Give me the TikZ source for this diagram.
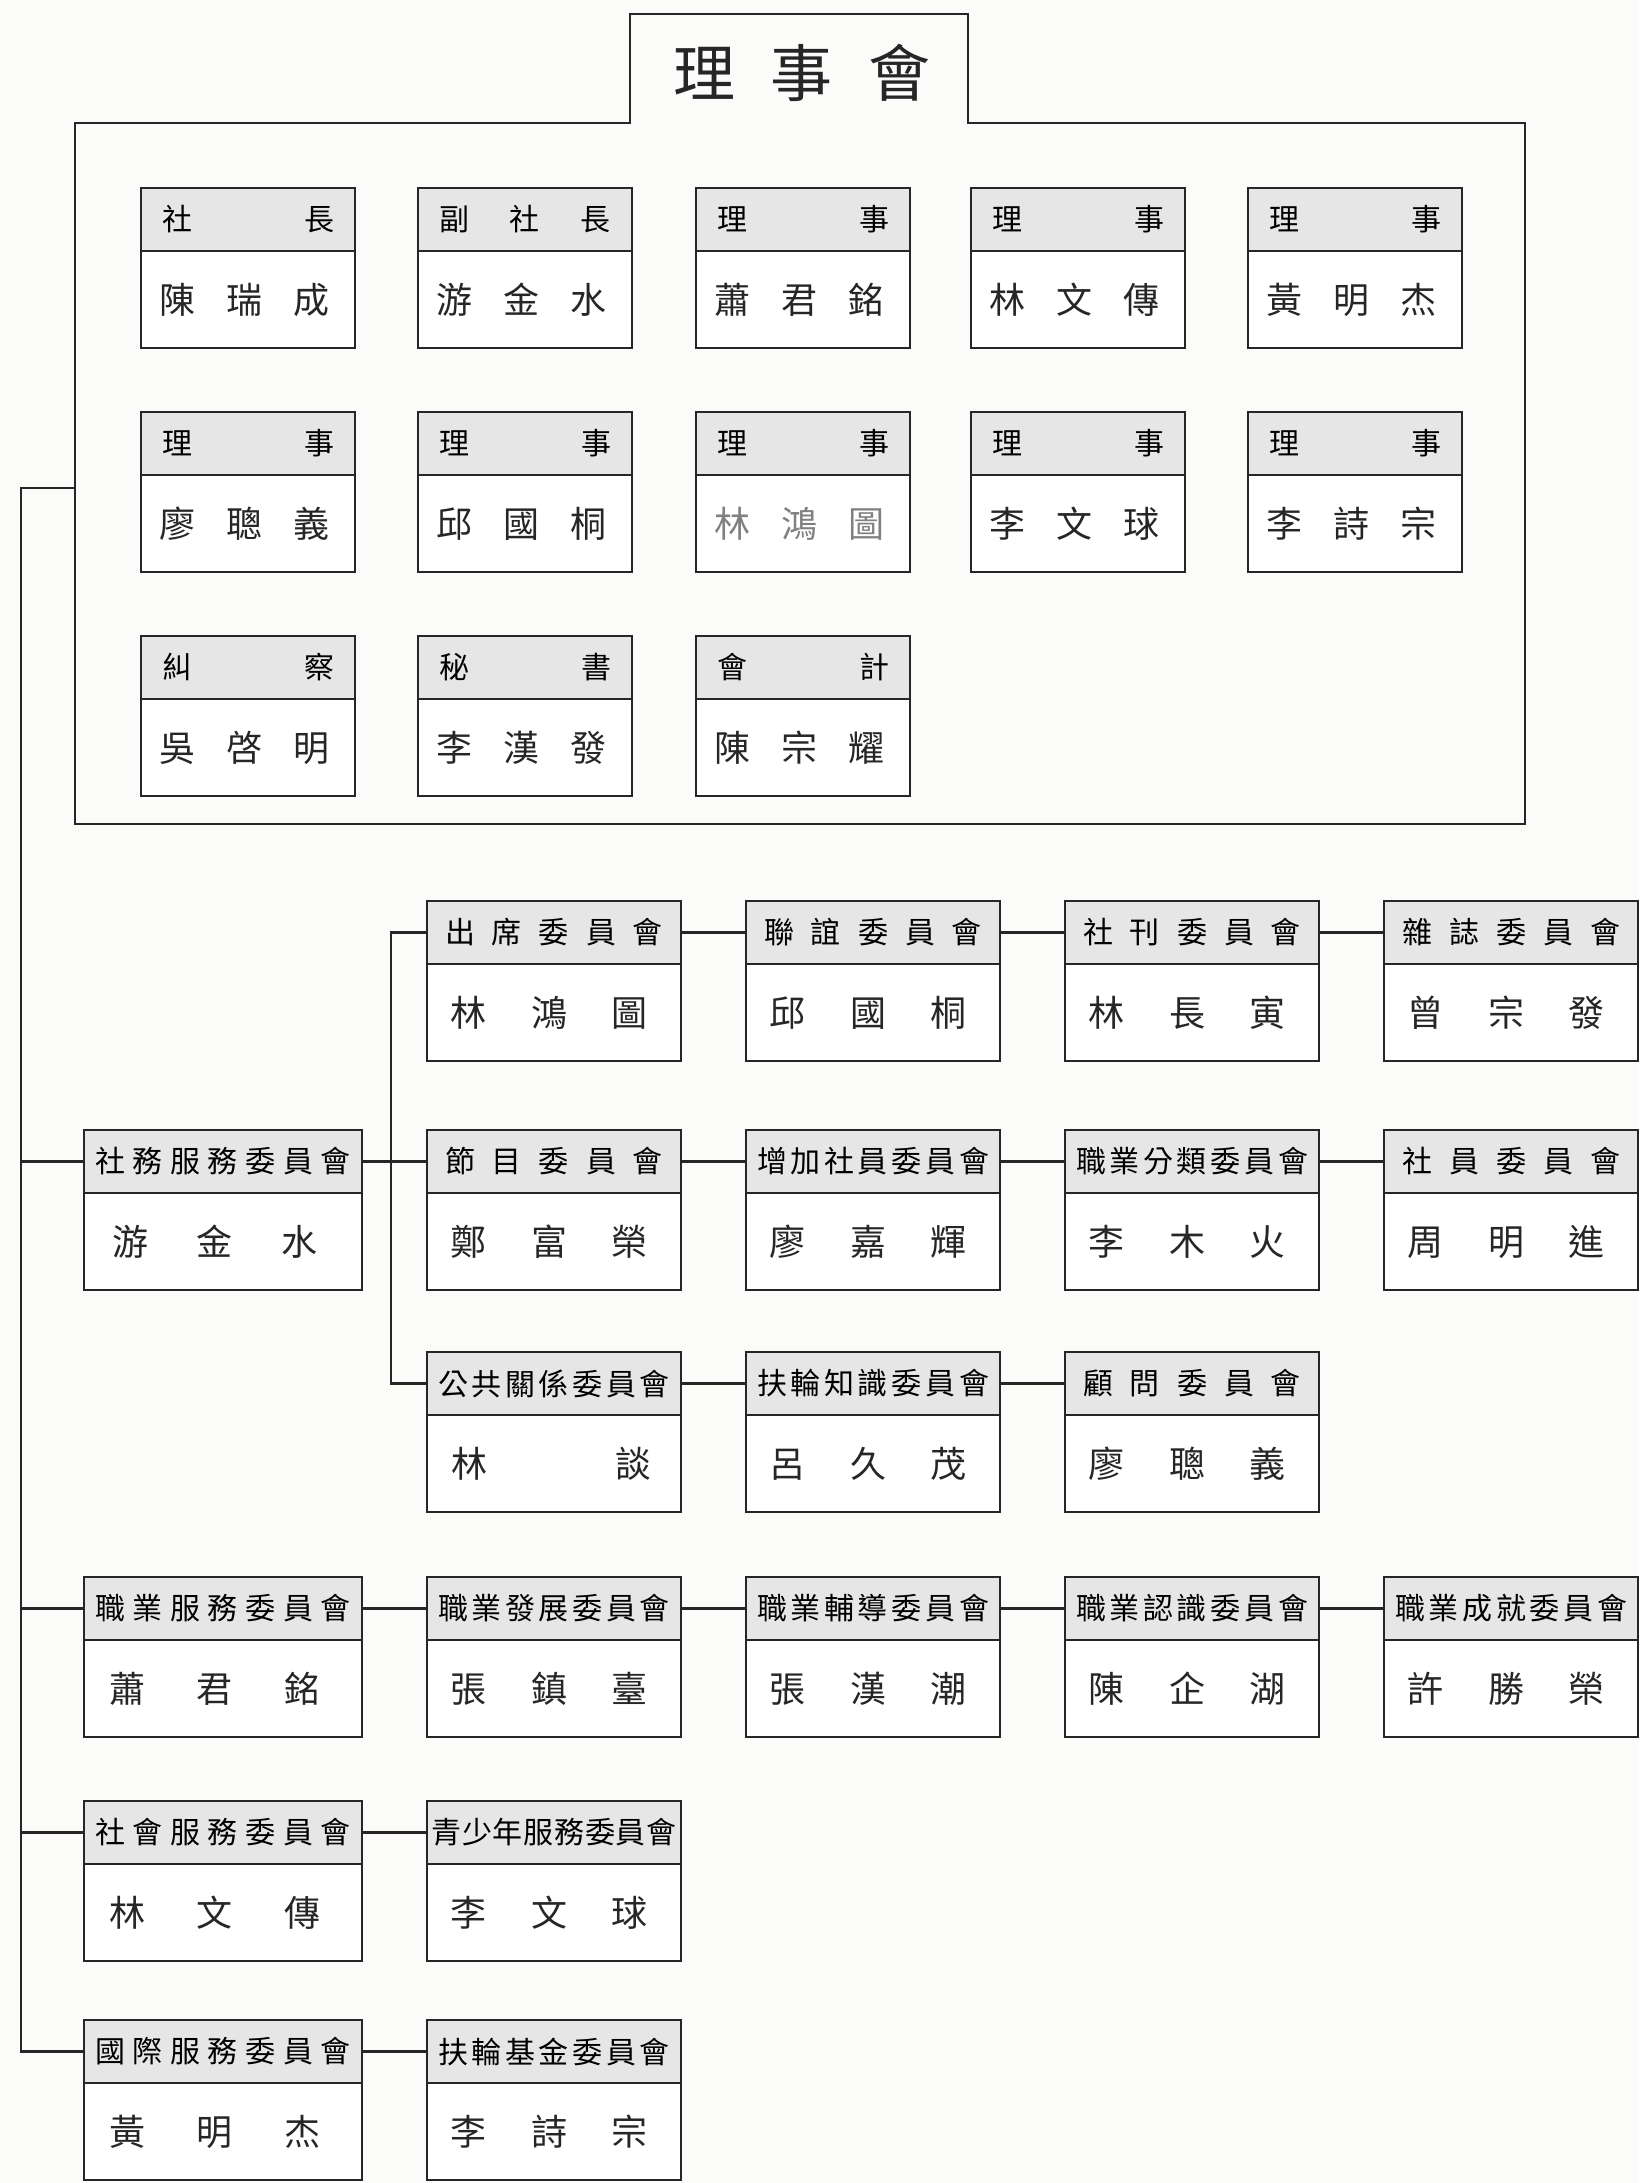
\documentclass[tikz,border=0pt]{standalone}
\usepackage{fontspec}
\newfontfamily\cjk{Noto Sans CJK TC}
\usetikzlibrary{calc}
\definecolor{headgrey}{HTML}{E6E6E6}
\definecolor{ink}{HTML}{262626}
\definecolor{paper}{HTML}{FBFBFA}
\newcommand\hdtxt[2]{\makebox[#1]{\cjk\fontsize{30}{32}\selectfont #2}}
\newcommand\nmtxt[2]{\makebox[#1]{\cjk\fontsize{36}{40}\selectfont #2}}
% board card: name, x, y, header, names
\newcommand\bcard[5]{%
  \node[bbox] (#1) at (#2,#3) {};
  \node[bhead] (#1h) at (#1.north west) {\hdtxt{172pt}{#4}};
  \node[txt,xshift=-3.5pt] (#1n) at ($(#1h.south)!0.5!(#1.south)$) {\nmtxt{170pt}{#5}};
}
% committee: name, x, y, width, header width, header, names width, names, name shift
\newcommand\cbox[9]{%
  \node[cframe,minimum width=#4pt] (#1) at (#2,#3) {};
  \node[chead,minimum width=#4pt] (#1h) at (#1.north west) {\hdtxt{#5pt}{#6}};
  \node[txt,xshift=#9pt] (#1n) at ($(#1h.south)!0.5!(#1.south)$) {\nmtxt{#7pt}{#8}};
}
\begin{document}
\begin{tikzpicture}[x=1pt,y=-1pt,
  frame/.style={draw=ink,line width=2.4pt},
  bbox/.style={frame,fill=white,minimum width=214pt,minimum height=160pt,anchor=north west,inner sep=0pt,outer sep=0pt},
  bhead/.style={frame,fill=headgrey,minimum width=214pt,minimum height=63pt,anchor=north west,inner sep=0pt,outer sep=0pt},
  cframe/.style={frame,fill=white,minimum height=160pt,anchor=north west,inner sep=0pt,outer sep=0pt},
  chead/.style={frame,fill=headgrey,minimum height=63pt,anchor=north west,inner sep=0pt,outer sep=0pt},
  txt/.style={inner sep=0pt,text=ink},
  conn/.style={draw=ink,line width=2.2pt},
  outline/.style={draw=ink,line width=2.4pt,line join=miter}]
\fill[paper] (0,0) rectangle (1639,2183);
\useasboundingbox (0,0) rectangle (1639,2183);

% board outline with title tab
\draw[outline] (630,14) -- (968,14) -- (968,123) -- (1525,123) -- (1525,824)
  -- (75,824) -- (75,123) -- (630,123) -- cycle;
\node[txt] (title) at (802,73) {\makebox[258pt]{\cjk\fontsize{62}{66}\selectfont 理\hfill 事\hfill 會}};
\coordinate (boardleft) at (75,488);

% board members
\bcard{b11}{141}{188}{社\hfill 長}{陳\hfill 瑞\hfill 成}
\bcard{b12}{418}{188}{副\hfill 社\hfill 長}{游\hfill 金\hfill 水}
\bcard{b13}{696}{188}{理\hfill 事}{蕭\hfill 君\hfill 銘}
\bcard{b14}{971}{188}{理\hfill 事}{林\hfill 文\hfill 傳}
\bcard{b15}{1248}{188}{理\hfill 事}{黃\hfill 明\hfill 杰}
\bcard{b21}{141}{412}{理\hfill 事}{廖\hfill 聰\hfill 義}
\bcard{b22}{418}{412}{理\hfill 事}{邱\hfill 國\hfill 桐}
\bcard{b23}{696}{412}{理\hfill 事}{\color{gray}林\hfill 鴻\hfill 圖}
\bcard{b24}{971}{412}{理\hfill 事}{李\hfill 文\hfill 球}
\bcard{b25}{1248}{412}{理\hfill 事}{李\hfill 詩\hfill 宗}
\bcard{b31}{141}{636}{糾\hfill 察}{吳\hfill 啓\hfill 明}
\bcard{b32}{418}{636}{秘\hfill 書}{李\hfill 漢\hfill 發}
\bcard{b33}{696}{636}{會\hfill 計}{陳\hfill 宗\hfill 耀}

% committees
\cbox{a1}{427}{901}{254}{218}{出\hfill 席\hfill 委\hfill 員\hfill 會}{197}{林\hfill 鴻\hfill 圖}{-5}
\cbox{a2}{746}{901}{254}{218}{聯\hfill 誼\hfill 委\hfill 員\hfill 會}{197}{邱\hfill 國\hfill 桐}{-5}
\cbox{a3}{1065}{901}{254}{218}{社\hfill 刊\hfill 委\hfill 員\hfill 會}{197}{林\hfill 長\hfill 寅}{-5}
\cbox{a4}{1384}{901}{254}{218}{雜\hfill 誌\hfill 委\hfill 員\hfill 會}{197}{曾\hfill 宗\hfill 發}{-5}

\cbox{sw}{84}{1130}{278}{256}{社\hfill 務\hfill 服\hfill 務\hfill 委\hfill 員\hfill 會}{206}{游\hfill 金\hfill 水}{-8}
\cbox{p1}{427}{1130}{254}{218}{節\hfill 目\hfill 委\hfill 員\hfill 會}{197}{鄭\hfill 富\hfill 榮}{-5}
\cbox{p2}{746}{1130}{254}{232}{增\hfill 加\hfill 社\hfill 員\hfill 委\hfill 員\hfill 會}{197}{廖\hfill 嘉\hfill 輝}{-5}
\cbox{p3}{1065}{1130}{254}{232}{職\hfill 業\hfill 分\hfill 類\hfill 委\hfill 員\hfill 會}{197}{李\hfill 木\hfill 火}{-5}
\cbox{p4}{1384}{1130}{254}{218}{社\hfill 員\hfill 委\hfill 員\hfill 會}{197}{周\hfill 明\hfill 進}{-5}

\cbox{c1}{427}{1352}{254}{232}{公\hfill 共\hfill 關\hfill 係\hfill 委\hfill 員\hfill 會}{200}{林\hfill 談}{-3}
\cbox{c2}{746}{1352}{254}{232}{扶\hfill 輪\hfill 知\hfill 識\hfill 委\hfill 員\hfill 會}{197}{呂\hfill 久\hfill 茂}{-5}
\cbox{c3}{1065}{1352}{254}{218}{顧\hfill 問\hfill 委\hfill 員\hfill 會}{197}{廖\hfill 聰\hfill 義}{-5}

\cbox{vs}{84}{1577}{278}{256}{職\hfill 業\hfill 服\hfill 務\hfill 委\hfill 員\hfill 會}{212}{蕭\hfill 君\hfill 銘}{-8}
\cbox{d1}{427}{1577}{254}{232}{職\hfill 業\hfill 發\hfill 展\hfill 委\hfill 員\hfill 會}{197}{張\hfill 鎮\hfill 臺}{-5}
\cbox{d2}{746}{1577}{254}{232}{職\hfill 業\hfill 輔\hfill 導\hfill 委\hfill 員\hfill 會}{197}{張\hfill 漢\hfill 潮}{-5}
\cbox{d3}{1065}{1577}{254}{232}{職\hfill 業\hfill 認\hfill 識\hfill 委\hfill 員\hfill 會}{197}{陳\hfill 企\hfill 湖}{-5}
\cbox{d4}{1384}{1577}{254}{232}{職\hfill 業\hfill 成\hfill 就\hfill 委\hfill 員\hfill 會}{197}{許\hfill 勝\hfill 榮}{-5}

\cbox{cs}{84}{1801}{278}{256}{社\hfill 會\hfill 服\hfill 務\hfill 委\hfill 員\hfill 會}{212}{林\hfill 文\hfill 傳}{-8}
\cbox{e1}{427}{1801}{254}{245}{青\hfill 少\hfill 年\hfill 服\hfill 務\hfill 委\hfill 員\hfill 會}{197}{李\hfill 文\hfill 球}{-5}

\cbox{is}{84}{2020}{278}{256}{國\hfill 際\hfill 服\hfill 務\hfill 委\hfill 員\hfill 會}{212}{黃\hfill 明\hfill 杰}{-8}
\cbox{f1}{427}{2020}{254}{232}{扶\hfill 輪\hfill 基\hfill 金\hfill 委\hfill 員\hfill 會}{197}{李\hfill 詩\hfill 宗}{-5}

% connectors
\coordinate (lx) at (21,0);
\coordinate (sx) at (391,0);
\draw[conn] (boardleft) -- (boardleft -| lx) -- (ish.west -| lx) -- (ish.west);
\draw[conn] (swh.west -| lx) -- (swh.west);
\draw[conn] (vsh.west -| lx) -- (vsh.west);
\draw[conn] (csh.west -| lx) -- (csh.west);

\draw[conn] (a1h.west) -- (a1h.west -| sx) -- (c1h.west -| sx) -- (c1h.west);
\draw[conn] (swh.east) -- (p1h.west);

\draw[conn] (a1h.east) -- (a2h.west);
\draw[conn] (a2h.east) -- (a3h.west);
\draw[conn] (a3h.east) -- (a4h.west);
\draw[conn] (p1h.east) -- (p2h.west);
\draw[conn] (p2h.east) -- (p3h.west);
\draw[conn] (p3h.east) -- (p4h.west);
\draw[conn] (c1h.east) -- (c2h.west);
\draw[conn] (c2h.east) -- (c3h.west);
\draw[conn] (vsh.east) -- (d1h.west);
\draw[conn] (d1h.east) -- (d2h.west);
\draw[conn] (d2h.east) -- (d3h.west);
\draw[conn] (d3h.east) -- (d4h.west);
\draw[conn] (csh.east) -- (e1h.west);
\draw[conn] (ish.east) -- (f1h.west);
\end{tikzpicture}
\end{document}
